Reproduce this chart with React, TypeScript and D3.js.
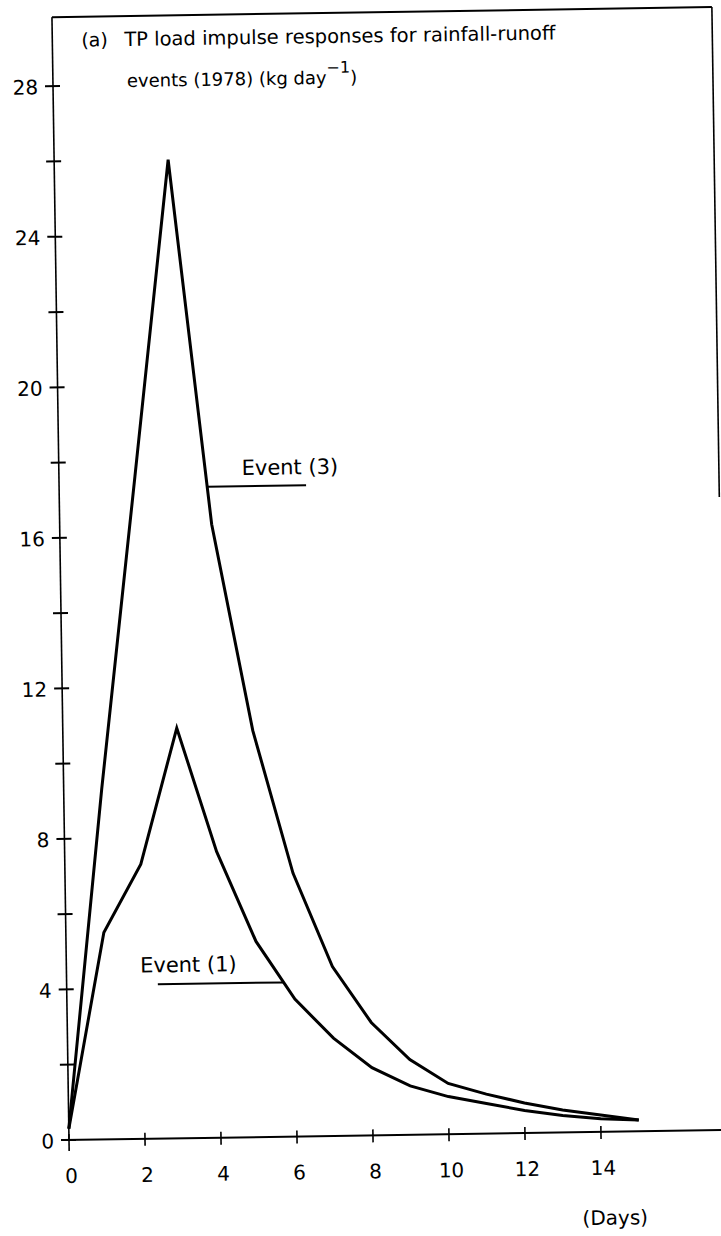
import React from "react";
import * as d3 from "d3";

// ---- data ----
const days = [0, 1, 2, 3, 4, 5, 6, 7, 8, 9, 10, 11, 12, 13, 14, 15];
const event1 = [0.3, 5.5, 7.3, 10.9, 7.6, 5.2, 3.65, 2.6, 1.8, 1.3, 1.0, 0.8, 0.6, 0.45, 0.35, 0.3];
const event3 = [0.3, 9.3, 17.6, 26.0, 16.3, 10.8, 7.0, 4.5, 3.0, 2.0, 1.35, 1.05, 0.8, 0.6, 0.45, 0.3];
const yTicks = [0, 2, 4, 6, 8, 10, 12, 14, 16, 18, 20, 22, 24, 26, 28];
const yLabels = [0, 4, 8, 12, 16, 20, 24, 28];
const xTicks = [0, 2, 4, 6, 8, 10, 12, 14];
const titleLine1a = "(a)";
const titleLine1b = "TP load impulse responses for rainfall-runoff";
const titleLine2 = "events (1978) (kg day";
const titleSup = "\u22121";
const xUnit = "(Days)";
const label1 = "Event (1)";
const label3 = "Event (3)";

const W = 721;
const H = 1236;
const OX = 69;
const OY = 1140;
const ROT = -0.87;
const FONT = "'DejaVu Sans', 'Liberation Sans', sans-serif";

export default function App() {
  const x = d3.scaleLinear().domain([0, 14]).range([OX, OX + 14 * 38]);
  const y = d3.scaleLinear().domain([0, 28]).range([OY, OY - 28 * 37.64]);
  const topY = 17;
  const rightX = 729;

  const line = d3
    .line<number>()
    .x((_, i) => x(days[i]))
    .y((v) => y(v))
    .curve(d3.curveLinear);

  // leader for event 3: from curve (descending limb day3->4) at value 17.3 to day 6.5
  const v3 = 17.3;
  const d3start = days[3] + (event3[3] - v3) / (event3[3] - event3[4]);
  // leader for event 1: from day 2.4 to curve (limb day5->6) at value 4.1
  const v1 = 4.1;
  const d1end = days[5] + (event1[5] - v1) / (event1[5] - event1[6]);

  return (
    <svg
      width={W}
      height={H}
      style={{ position: "absolute", left: 0, top: 0, background: "#fff" }}
      fontFamily={FONT}
    >
      <rect x={0} y={0} width={W} height={H} fill="#fff" />
      <g transform={`rotate(${ROT}, ${OX}, ${OY})`}>
        {/* frame */}
        <line x1={OX} y1={topY} x2={rightX} y2={topY} stroke="#000" strokeWidth={2} />
        <line x1={rightX} y1={topY} x2={rightX} y2={507} stroke="#000" strokeWidth={1.6} />
        {/* y axis */}
        <line x1={OX} y1={topY} x2={OX} y2={OY} stroke="#000" strokeWidth={1.6} />
        {yTicks.map((t) => (
          <line key={"yt" + t} x1={OX - 8} x2={OX + 7} y1={y(t)} y2={y(t)} stroke="#000" strokeWidth={2} />
        ))}
        {yLabels.map((t) => (
          <text key={"yl" + t} x={OX - 15} y={y(t) + 8} textAnchor="end" fontSize={20} fill="#000">
            {t}
          </text>
        ))}
        {/* x axis */}
        <line x1={OX - 6} y1={OY} x2={rightX + 20} y2={OY} stroke="#000" strokeWidth={2} />
        {xTicks.map((t) => (
          <line key={"xt" + t} x1={x(t)} x2={x(t)} y1={OY - 6} y2={OY + (t === 0 ? 11 : 7)} stroke="#000" strokeWidth={1.6} />
        ))}
        {xTicks.map((t) => (
          <text key={"xl" + t} x={x(t) + 2} y={OY + 43} textAnchor="middle" fontSize={20} fill="#000">
            {t}
          </text>
        ))}
        <text x={614} y={OY + 93} textAnchor="middle" fontSize={20} fill="#000">
          {xUnit}
        </text>

        {/* title */}
        <text x={98} y={47} fontSize={19} fill="#000">
          {titleLine1a}
        </text>
        <text x={141} y={47} fontSize={19.5} fill="#000">
          {titleLine1b}
        </text>
        <text x={143} y={88} fontSize={18} fill="#000">
          {titleLine2}
          <tspan dy={-11} fontSize={16}>{titleSup}</tspan>
          <tspan dy={11} fontSize={18}>{")"}</tspan>
        </text>

        {/* curves */}
        <path d={line(event3) || ""} fill="none" stroke="#000" strokeWidth={3} strokeLinejoin="miter" />
        <path d={line(event1) || ""} fill="none" stroke="#000" strokeWidth={3} strokeLinejoin="miter" />

        {/* annotations */}
        <line x1={x(d3start)} x2={x(6.5)} y1={y(v3)} y2={y(v3)} stroke="#000" strokeWidth={2} />
        <text x={x(4.81)} y={y(v3) - 11} fontSize={21} fill="#000">
          {label3}
        </text>
        <line x1={x(2.4)} x2={x(d1end)} y1={y(v1)} y2={y(v1)} stroke="#000" strokeWidth={2} />
        <text x={x(1.94)} y={y(v1) - 12} fontSize={21} fill="#000">
          {label1}
        </text>
      </g>
    </svg>
  );
}
